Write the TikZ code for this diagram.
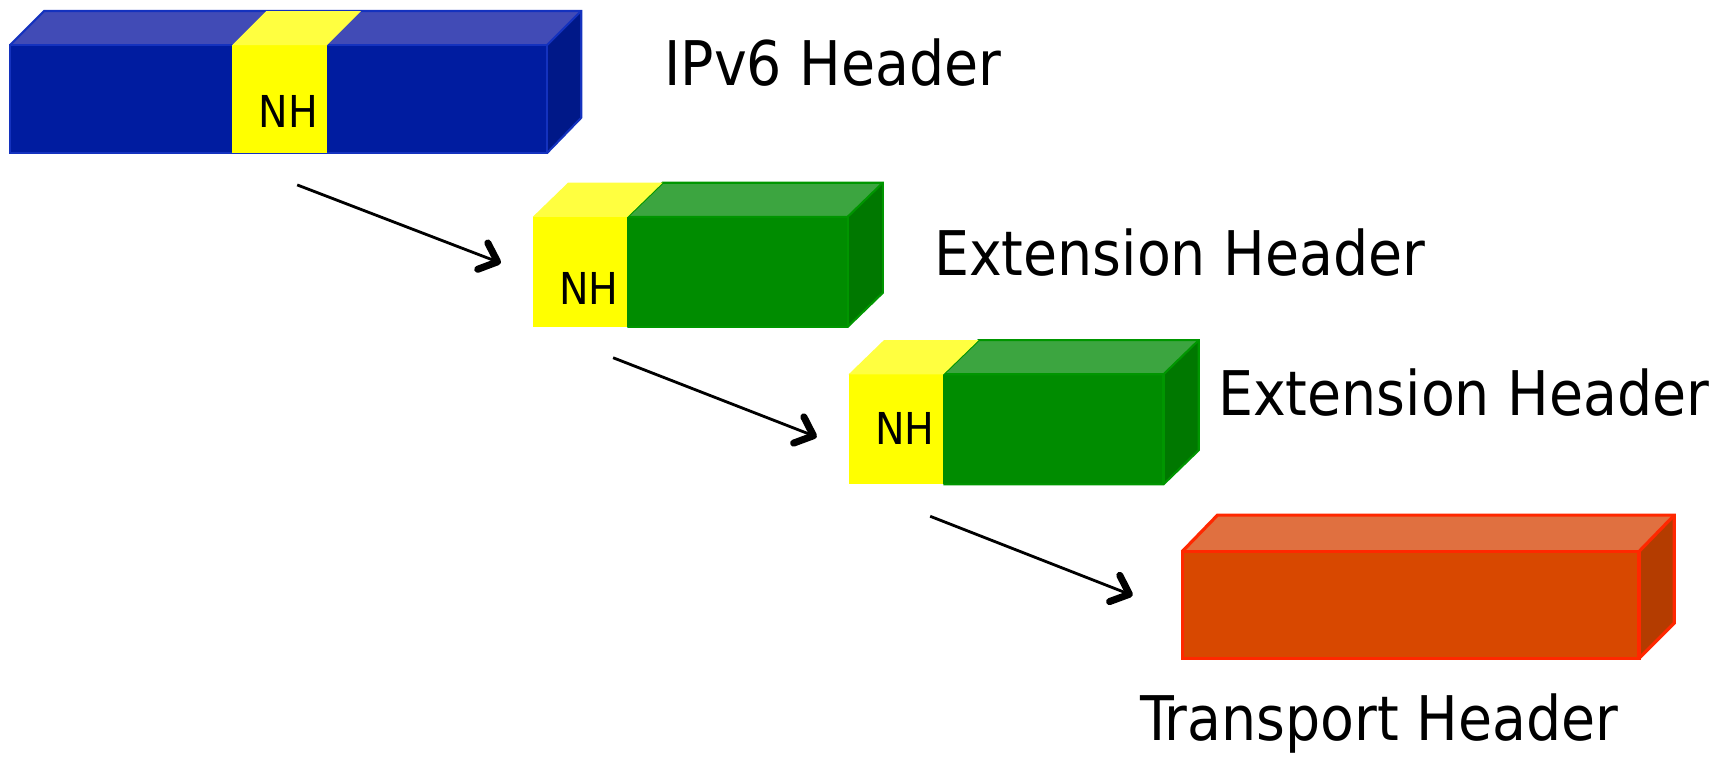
\documentclass[tikz,border=0pt]{standalone}
\usepackage{fontspec}
\setmainfont{DejaVu Sans Condensed}
\usetikzlibrary{arrows.meta}

\definecolor{ipfront}{RGB}{0,28,160}
\definecolor{iptop}{RGB}{65,75,182}
\definecolor{ipside}{RGB}{0,24,136}
\definecolor{ipedge}{RGB}{20,50,190}
\definecolor{nhfront}{RGB}{255,255,0}
\definecolor{nhtop}{RGB}{255,255,64}
\definecolor{extfront}{RGB}{0,140,0}
\definecolor{exttop}{RGB}{60,165,64}
\definecolor{extside}{RGB}{0,120,0}
\definecolor{extedge}{RGB}{0,150,0}
\definecolor{tpfront}{RGB}{216,72,0}
\definecolor{tptop}{RGB}{224,112,64}
\definecolor{tpside}{RGB}{180,60,0}
\definecolor{tpedge}{RGB}{255,40,0}

\tikzset{
  hdrlabel/.style={anchor=west, inner sep=0pt, font=\fontsize{17.5}{20}\selectfont},
  nhlabel/.style={inner sep=0pt, font=\fontsize{12.5}{14}\selectfont},
  nharrow/.style={-{Straight Barb[length=4.5pt,width=8pt,line width=2pt,round]}, line width=0.8pt},
}

\begin{document}
\begin{tikzpicture}[x=0.011008cm, y=-0.011008cm]
      \useasboundingbox (0,0) rectangle (1568,688);
      % IPv6 header block
      \fill[ipfront] (9,41) rectangle (497,139);
      \fill[iptop] (9,41) -- (40,10) -- (528,10) -- (497,41) -- cycle;
      \fill[ipside] (497,41) -- (528,10) -- (528,107) -- (497,139) -- cycle;
      \draw[ipedge, line width=0.6pt] (9,41) rectangle (497,139);
      \draw[ipedge, line width=0.6pt] (9,41) -- (40,10) -- (528,10) -- (528,107) -- (497,139);
      \draw[ipedge, line width=0.6pt] (497,41) -- (528,10);
      \fill[nhfront] (211,41) rectangle (297,139);
      \fill[nhtop] (211,41) -- (242,10) -- (328,10) -- (297,41) -- cycle;
      \node[nhlabel] (nh1) at (262,101) {NH};
      \node[hdrlabel] (ipv6) at (603,57) {IPv6 Header};
      % First extension header
      \fill[extfront] (570,197) rectangle (770,297);
      \fill[exttop] (570,197) -- (602,166) -- (802,166) -- (770,197) -- cycle;
      \fill[extside] (770,197) -- (802,166) -- (802,266) -- (770,297) -- cycle;
      \draw[extedge, line width=0.6pt] (570,197) -- (602,166) -- (802,166) -- (802,266) -- (770,297) -- (570,297);
      \draw[extedge, line width=0.6pt] (570,197) -- (770,197) -- (802,166);
      \draw[extedge, line width=0.6pt] (770,197) -- (770,297);
      \fill[nhfront] (484,197) rectangle (570,297);
      \fill[nhtop] (484,197) -- (516,166) -- (602,166) -- (570,197) -- cycle;
      \node[nhlabel] (nh2) at (535,262) {NH};
      \node[hdrlabel] (ext1) at (848,229) {Extension Header};
      % Second extension header
      \fill[extfront] (857,340) rectangle (1057,440);
      \fill[exttop] (857,340) -- (889,309) -- (1089,309) -- (1057,340) -- cycle;
      \fill[extside] (1057,340) -- (1089,309) -- (1089,409) -- (1057,440) -- cycle;
      \draw[extedge, line width=0.6pt] (857,340) -- (889,309) -- (1089,309) -- (1089,409) -- (1057,440) -- (857,440);
      \draw[extedge, line width=0.6pt] (857,340) -- (1057,340) -- (1089,309);
      \draw[extedge, line width=0.6pt] (1057,340) -- (1057,440);
      \fill[nhfront] (771,340) rectangle (857,440);
      \fill[nhtop] (771,340) -- (803,309) -- (889,309) -- (857,340) -- cycle;
      \node[nhlabel] (nh3) at (822,389) {NH};
      \node[hdrlabel] (ext2) at (1106,357) {Extension Header};
      % Transport header
      \fill[tpfront] (1074,501) rectangle (1489,598);
      \fill[tptop] (1074,501) -- (1106,468) -- (1521,468) -- (1489,501) -- cycle;
      \fill[tpside] (1489,501) -- (1521,468) -- (1521,566) -- (1489,598) -- cycle;
      \draw[tpedge, line width=0.9pt] (1074,501) rectangle (1489,598);
      \draw[tpedge, line width=0.9pt] (1074,501) -- (1106,468) -- (1521,468) -- (1521,566) -- (1489,598);
      \draw[tpedge, line width=0.9pt] (1489,501) -- (1521,468);
      \node[hdrlabel] (tp) at (1035,657) {Transport Header};
      % Arrows
      \coordinate (a1) at (270,168);
      \coordinate (b1) at (455,239);
      \coordinate (a2) at (557,325);
      \coordinate (b2) at (742,397);
      \coordinate (a3) at (845,469);
      \coordinate (b3) at (1029,541);
      \draw[nharrow] (a1) -- (b1);
      \draw[nharrow] (a2) -- (b2);
      \draw[nharrow] (a3) -- (b3);
    \end{tikzpicture}
\end{document}
